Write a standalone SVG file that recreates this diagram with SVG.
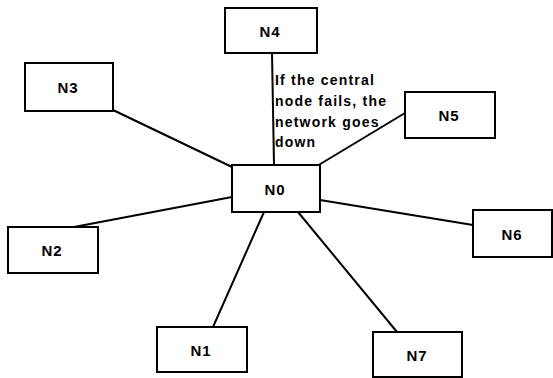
<svg xmlns="http://www.w3.org/2000/svg" width="553" height="378" viewBox="0 0 553 378">
  <style>
    .box { fill: #ffffff; stroke: #000000; stroke-width: 2; }
    .lbl { font-family: "Liberation Sans", Arial, sans-serif; font-weight: bold; font-size: 15px; letter-spacing: 1px; text-anchor: middle; dominant-baseline: central; fill: #000000; }
    .note { font-family: "Liberation Sans", Arial, sans-serif; font-weight: bold; font-size: 14px; letter-spacing: 1.2px; fill: #000000; }
    .link { stroke: #000000; stroke-width: 2; fill: none; }
  </style>
  <rect width="553" height="378" fill="#ffffff"/>

  <!-- spokes from the hub to every node -->
  <g id="connectors">
    <line class="link" x1="272" y1="53" x2="274" y2="165"/>
    <line class="link" x1="405" y1="113" x2="317" y2="166"/>
    <line class="link" x1="113" y1="110" x2="232" y2="167"/>
    <line class="link" x1="74" y1="227" x2="232" y2="197"/>
    <line class="link" x1="473" y1="225" x2="320" y2="200"/>
    <line class="link" x1="213" y1="327" x2="264" y2="212"/>
    <line class="link" x1="397" y1="332" x2="298" y2="212"/>
  </g>

  <g id="n0"><rect class="box" x="232" y="165" width="88" height="47"/><text class="lbl" x="275" y="189">N0</text></g>
  <g id="n1"><rect class="box" x="157" y="327" width="90" height="45"/><text class="lbl" x="201" y="350">N1</text></g>
  <g id="n2"><rect class="box" x="8" y="227" width="90" height="46"/><text class="lbl" x="52" y="250">N2</text></g>
  <g id="n3"><rect class="box" x="25" y="63" width="88" height="48"/><text class="lbl" x="68" y="87">N3</text></g>
  <g id="n4"><rect class="box" x="225" y="8" width="92" height="45"/><text class="lbl" x="270" y="31">N4</text></g>
  <g id="n5"><rect class="box" x="405" y="92" width="90" height="46"/><text class="lbl" x="449" y="115">N5</text></g>
  <g id="n6"><rect class="box" x="473" y="210" width="79" height="47"/><text class="lbl" x="512" y="234">N6</text></g>
  <g id="n7"><rect class="box" x="373" y="332" width="89" height="45"/><text class="lbl" x="417" y="355">N7</text></g>

  <g id="note">
    <text class="note" x="275" y="85">If the central</text>
    <text class="note" x="275" y="106">node fails, the</text>
    <text class="note" x="275" y="127">network goes</text>
    <text class="note" x="275" y="147">down</text>
  </g>
</svg>
